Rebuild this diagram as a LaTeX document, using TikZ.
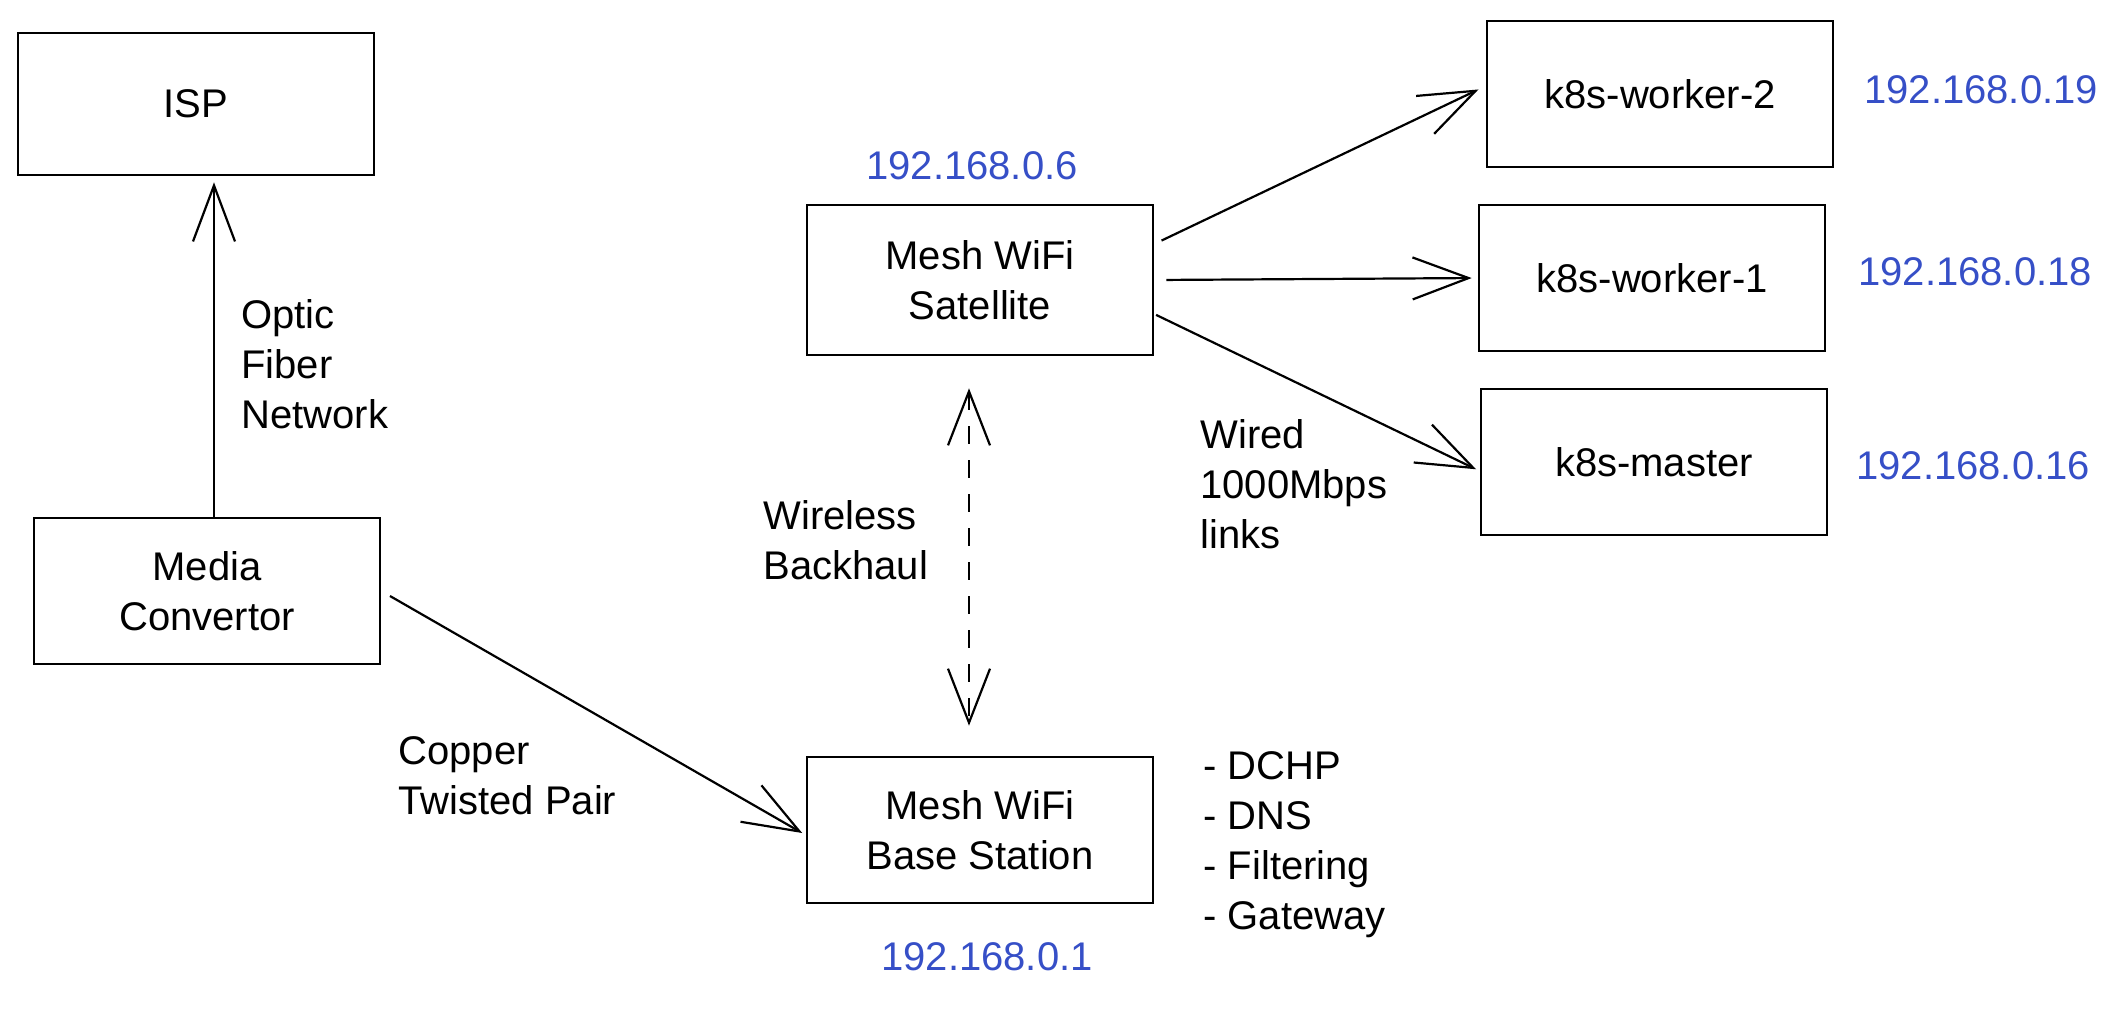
\documentclass[tikz,border=0pt]{standalone}
\usepackage{fontspec}
\setmainfont{Liberation Sans}
\usetikzlibrary{arrows.meta}
\definecolor{ipblue}{HTML}{364FC7}

\begin{document}
\begin{tikzpicture}[
    x=0.5pt, y=-0.5pt,
    every node/.style={font=\fontsize{20}{25}\selectfont},
    device/.style={draw, line width=1.3pt, minimum width=173pt, minimum height=73pt, align=center},
    link/.style={line width=1.1pt, -{Straight Barb[length=28pt, width=21pt]}},
    twoway/.style={line width=1.1pt, dash pattern=on 9pt off 8pt,
        {Straight Barb[length=27pt, width=21pt]}-{Straight Barb[length=27pt, width=21pt]}},
    note/.style={anchor=west, align=left, inner sep=0pt},
    ip/.style={text=ipblue, inner sep=0pt},
]
\useasboundingbox (0,0) rectangle (2108,1009);

% --- devices ---
\node[device, minimum width=178pt, minimum height=71pt] (isp) at (196,104) {ISP};
\node[device] (media) at (207,591) {Media\\Convertor};
\node[device, minimum height=75pt] (sat) at (980,280) {Mesh WiFi\\Satellite};
\node[device] (base) at (980,830) {Mesh WiFi\\Base Station};
\node[device] (w2) at (1660,94) {k8s-worker-2};
\node[device] (w1) at (1652,278) {k8s-worker-1};
\node[device] (master) at (1654,462) {k8s-master};

% --- addresses ---
\node[ip] (ipsat) at (972,166) {192.168.0.6};
\node[ip] (ipbase) at (987,957) {192.168.0.1};
\node[ip, anchor=west] (ipw2) at (1864,90) {192.168.0.19};
\node[ip, anchor=west] (ipw1) at (1858,272) {192.168.0.18};
\node[ip, anchor=west] (ipmaster) at (1856,466) {192.168.0.16};

% --- link notes ---
\node[note] (fiber) at (241,364) {Optic\\Fiber\\Network};
\node[note] (backhaul) at (763,540) {Wireless\\Backhaul};
\node[note] (wired) at (1200,484) {Wired\\1000Mbps\\links};
\node[note] (copper) at (398,776) {Copper\\Twisted Pair};
\node[note] (services) at (1203,845) {- DCHP\\- DNS\\- Filtering\\- Gateway};

% --- links ---
\coordinate (fiberfoot) at ([xshift=3.5pt]media.north);
\draw[link, shorten >=3pt] (fiberfoot) -- (fiberfoot |- isp.south);
\draw[link, shorten <=5pt, shorten >=2pt] (media.east) -- ([yshift=-2.5pt]base.west);
\draw[link, shorten <=4pt, shorten >=4pt] ([yshift=18pt]sat.east) -- ([yshift=4pt]w2.west);
\draw[link, shorten <=6pt, shorten >=3pt] (sat.east) -- (w1.west);
\draw[link, shorten <=1pt, shorten >=2pt] ([yshift=-17pt]sat.east) -- ([yshift=-4.5pt]master.west);
\coordinate (bhtop) at ([xshift=-5.5pt]sat.south);
\draw[twoway, shorten <=16pt, shorten >=15pt] (bhtop) -- (bhtop |- base.north);

\end{tikzpicture}
\end{document}
